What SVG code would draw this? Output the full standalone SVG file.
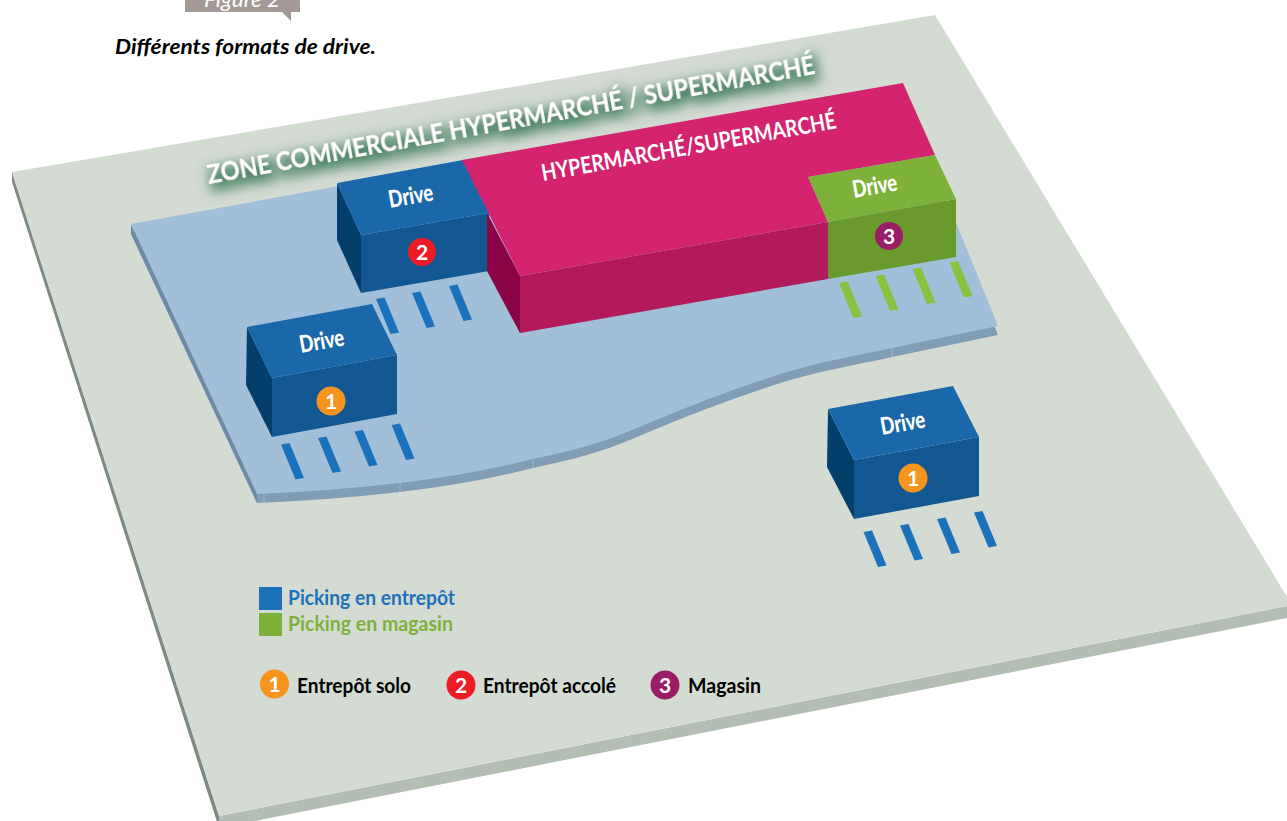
<svg xmlns="http://www.w3.org/2000/svg" width="1287" height="821" viewBox="0 0 1287 821">
<defs>
<filter id="glow" x="-10%" y="-80%" width="120%" height="280%">
<feMorphology in="SourceAlpha" operator="dilate" radius="2" result="d"/>
<feGaussianBlur in="d" stdDeviation="6.500" result="b"/>
<feOffset in="b" dx="2" dy="6" result="o"/>
<feFlood flood-color="#43805f"/>
<feComposite in2="o" operator="in" result="c"/>
<feMerge><feMergeNode in="c"/><feMergeNode in="SourceGraphic"/></feMerge>
</filter>
<g id="stripe"><polygon points="0,0 8.5,-1.5 23,33.5 14.5,35"/></g>
<path id="plaza" d="M131,224 L900,84 L998,326 L892,348 C860,355 820,362 787,372 C720,393 665,416 637,428 C600,444 570,451 533,459 Q470,475 400,483 Q330,491 257,494Z"/>
</defs>
<style>
text{font-family:"Lato","Open Sans","Liberation Sans",sans-serif}
.t{fill:#1a68a9}.f{fill:#135792}.l{fill:#043f6c}
.s{fill:#1c72ba}.sg{fill:#8cc03f}
.drive{font-weight:900;font-size:24px;fill:#fff}
.num{font-weight:700;font-size:21px;fill:#fff;text-anchor:middle}
.leg{font-weight:700;font-size:20px}
.seam{stroke:#a1b6ca;stroke-width:1;fill:none}
</style>
<rect width="1287" height="821" fill="#fff"/>

<g id="header">
<polygon points="185,0 300,0 300,12 291,12 291,21 282,12 185,12" fill="#a39a97"/>
<text x="204" y="7" font-size="22" font-style="italic" font-weight="400" fill="#fff" textLength="76" lengthAdjust="spacingAndGlyphs">Figure 2</text>
<text x="115" y="54" font-size="20" font-style="italic" font-weight="700" fill="#000" textLength="261" lengthAdjust="spacingAndGlyphs">Différents formats de drive.</text>
</g>

<g id="ground">
<polygon points="219,816 1292,605 1292,617 219,828" fill="#b3bdb4"/>
<polygon points="12,172 12,182 219,828 219,816" fill="#7f8a84"/>
<polygon points="12,172 935,15 1292,605 219,816" fill="#d4dbd3"/>
</g>

<g id="zone">
<use href="#plaza" y="9" fill="#819cb5"/>
<polygon points="131,224 131,234 257,503 257,494" fill="#6f8aa5"/>
<use href="#plaza" fill="#a1bfd9"/>
<path class="seam" d="M400,483V492M533,459V468M892,348V357M264,494V503"/>
</g>

<text id="zone-label" transform="translate(209,184) rotate(-10.3)" font-size="27" font-weight="700" fill="#fff" textLength="617" lengthAdjust="spacingAndGlyphs" filter="url(#glow)">ZONE COMMERCIALE HYPERMARCHÉ / SUPERMARCHÉ</text>

<g id="drive-2">
<polygon class="l" points="337,183 361,235 361,293 337,240"/>
<polygon class="f" points="361,235 489,213 489,271 361,293"/>
<polygon class="t" points="337,183 463,160 489,213 361,235"/>
<text class="drive" transform="translate(390,208) rotate(-10)" textLength="45" lengthAdjust="spacingAndGlyphs">Drive</text>
<circle cx="422" cy="252" r="14" fill="#ed1c24"/>
<text class="num" x="422" y="259.500">2</text>
<use href="#stripe" class="s" x="376" y="299"/><use href="#stripe" class="s" x="412" y="293"/><use href="#stripe" class="s" x="449" y="286"/>
</g>

<g id="hypermarche">
<polygon points="487,213 520,276 520,333 487,271" fill="#8b0445"/>
<polygon points="520,276 828,222 828,279 520,333" fill="#b31a5b"/>
<polygon points="462,160 903,83 935,155 808,177 828,222 520,276" fill="#d4246f"/>
<text transform="translate(543,181) rotate(-10.2)" font-size="23" font-weight="700" fill="#fff" textLength="299" lengthAdjust="spacingAndGlyphs">HYPERMARCHÉ/SUPERMARCHÉ</text>
</g>

<g id="drive-3">
<polygon points="828,222 956,199 956,257 828,279" fill="#6a992e"/>
<polygon points="808,177 935,155 956,199 828,222" fill="#7eb139"/>
<text class="drive" transform="translate(854,198) rotate(-10)" textLength="45" lengthAdjust="spacingAndGlyphs">Drive</text>
<circle cx="889" cy="236" r="14" fill="#9a1c64"/>
<text class="num" x="889" y="243.500">3</text>
<use href="#stripe" class="sg" x="839" y="283"/><use href="#stripe" class="sg" x="875.500" y="276"/><use href="#stripe" class="sg" x="912.500" y="269"/><use href="#stripe" class="sg" x="949.500" y="262.500"/>
</g>

<g id="drive-1a">
<polygon class="l" points="247,327 272,378 272,437 246,385"/>
<polygon class="f" points="272,378 397,355 397,414 272,437"/>
<polygon class="t" points="247,327 372,304 397,355 272,378"/>
<text class="drive" transform="translate(301,353) rotate(-10)" textLength="45" lengthAdjust="spacingAndGlyphs">Drive</text>
<circle cx="331" cy="401" r="14.500" fill="#f7941d"/>
<text class="num" x="331" y="408.500">1</text>
<use href="#stripe" class="s" x="281" y="444.500"/><use href="#stripe" class="s" x="318" y="438"/><use href="#stripe" class="s" x="354.500" y="431.500"/><use href="#stripe" class="s" x="391.500" y="425"/>
</g>

<g id="drive-1b">
<polygon class="l" points="828,409 854,460 854,519 827,467"/>
<polygon class="f" points="854,460 979,437 979,496 854,519"/>
<polygon class="t" points="828,409 953,386 979,437 854,460"/>
<text class="drive" transform="translate(882,435) rotate(-10)" textLength="45" lengthAdjust="spacingAndGlyphs">Drive</text>
<circle cx="913" cy="478" r="14.500" fill="#f7941d"/>
<text class="num" x="913" y="485.500">1</text>
<use href="#stripe" class="s" x="863.500" y="532"/><use href="#stripe" class="s" x="900" y="525.500"/><use href="#stripe" class="s" x="937" y="519"/><use href="#stripe" class="s" x="974" y="512.500"/>
</g>

<g id="legend">
<rect x="259" y="587" width="23" height="23" fill="#1c72ba"/>
<text class="leg" x="288" y="605" fill="#1c72ba" textLength="167" lengthAdjust="spacingAndGlyphs">Picking en entrepôt</text>
<rect x="259" y="613" width="23" height="23" fill="#7eb139"/>
<text class="leg" x="288" y="631" fill="#7eb139" textLength="165" lengthAdjust="spacingAndGlyphs">Picking en magasin</text>
<circle cx="274.500" cy="684" r="14.500" fill="#f7941d"/><text class="num" x="274.500" y="691.500">1</text>
<text class="leg" x="297" y="693" fill="#000" textLength="114" lengthAdjust="spacingAndGlyphs">Entrepôt solo</text>
<circle cx="461" cy="685" r="14.500" fill="#ed1c24"/><text class="num" x="461" y="692.500">2</text>
<text class="leg" x="483" y="693" fill="#000" textLength="133" lengthAdjust="spacingAndGlyphs">Entrepôt accolé</text>
<circle cx="665" cy="685" r="14.500" fill="#9a1c64"/><text class="num" x="665" y="692.500">3</text>
<text class="leg" x="688" y="693" fill="#000" textLength="73" lengthAdjust="spacingAndGlyphs">Magasin</text>
</g>
</svg>
